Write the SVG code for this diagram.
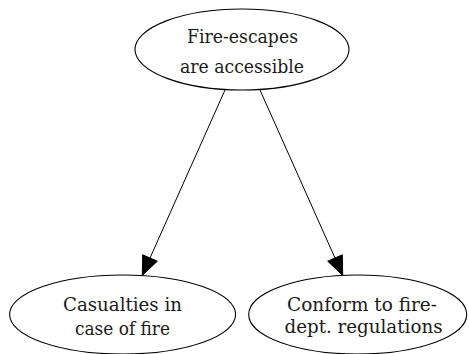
<svg xmlns="http://www.w3.org/2000/svg" width="469" height="354" viewBox="0 0 469 354">
  <style>
    .node ellipse { fill: #ffffff; stroke: #000000; stroke-width: 1.1; }
    .node text { font-family: "DejaVu Serif", "Liberation Serif", serif; font-size: 19px; fill: #1a1a1a; text-anchor: middle; }
    .edge line { stroke: #000000; stroke-width: 1; }
    .edge polygon { fill: #000000; stroke: #000000; stroke-width: 1; }
  </style>
  <rect width="469" height="354" fill="#ffffff"/>

  <g id="edges">
    <g class="edge" id="edge-fire-casualties">
      <line x1="225" y1="90" x2="150" y2="258"/>
      <polygon points="142.3,275.4 157.3,261.2 142.7,254.8"/>
    </g>
    <g class="edge" id="edge-fire-conform">
      <line x1="260" y1="90" x2="335" y2="258"/>
      <polygon points="342.7,275.4 342.3,254.8 327.7,261.2"/>
    </g>
  </g>

  <g class="node" id="fire-escapes">
    <ellipse cx="242" cy="49.5" rx="107" ry="40.5"/>
    <text x="242.5" y="43.3" textLength="111" lengthAdjust="spacingAndGlyphs">Fire-escapes</text>
    <text x="242" y="72.7" textLength="124" lengthAdjust="spacingAndGlyphs">are accessible</text>
  </g>

  <g class="node" id="casualties">
    <ellipse cx="122.6" cy="314.5" rx="113" ry="39.5"/>
    <text x="122.5" y="311" textLength="119" lengthAdjust="spacingAndGlyphs">Casualties in</text>
    <text x="122.5" y="335" textLength="95" lengthAdjust="spacingAndGlyphs">case of fire</text>
  </g>

  <g class="node" id="conform">
    <ellipse cx="357.7" cy="314.5" rx="109" ry="39.5"/>
    <text x="362" y="311" textLength="150" lengthAdjust="spacingAndGlyphs">Conform to fire-</text>
    <text x="363.5" y="333" textLength="158" lengthAdjust="spacingAndGlyphs">dept. regulations</text>
  </g>
</svg>
